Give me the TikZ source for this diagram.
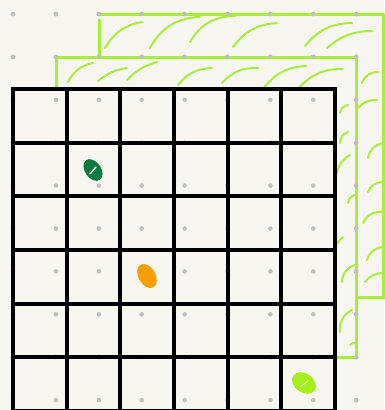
\documentclass[tikz,border=0pt]{standalone}
\usetikzlibrary{positioning}
\definecolor{paper}{HTML}{F8F6F1}
\definecolor{dotgray}{HTML}{C2C0BC}
\definecolor{lime}{HTML}{A8EE3C}
\definecolor{darkleaf}{HTML}{0B7A40}
\definecolor{amber}{HTML}{F5A000}
\definecolor{limeblob}{HTML}{A6EE1E}
\tikzset{
  layer/.style={draw=lime, line width=3pt},
  hatch/.style={draw=lime, line width=2pt, line cap=round},
  gridline/.style={draw=black, line width=4.2pt},
}
\begin{document}
\begin{tikzpicture}[x=1pt,y=-1pt]
\useasboundingbox (0,0) rectangle (384,410);
\fill[paper] (0,0) rectangle (384,410);
% dot paper
\foreach \i in {0,...,8}
  \foreach \j in {0,...,9}
    \fill[dotgray] (13+42.9*\i,14+42.9*\j) circle (2.3pt);
% back layer
\draw[layer] (99,19) -- (99,57);
\draw[layer] (99,14) -- (384,14);
\draw[layer] (383,14) -- (383,297) -- (357,297);
\draw[hatch] (105,48) to[bend left=25] (142,22);
\draw[hatch] (150,48) to[bend left=30] (200,17);
\draw[hatch] (190,42) to[bend left=30] (235,16);
\draw[hatch] (233,47) to[bend left=25] (277,23);
\draw[hatch] (305,46) to[bend left=25] (352,23);
\draw[hatch] (327,48) to[bend left=20] (372,31);
\draw[hatch] (362,83) to[bend left=35] (378,72);
\draw[hatch] (358,108) to[bend left=25] (377,100);
\draw[hatch] (368,158) to[bend left=35] (383,143);
\draw[hatch] (368,192) to[bend left=35] (383,182);
\draw[hatch] (363,223) to[bend left=35] (382,212);
\draw[hatch] (367,260) to[bend left=35] (383,247);
\draw[hatch] (365,282) to[bend left=25] (383,273);
% middle layer
\draw[layer] (56,99) -- (56,57) -- (356,57) -- (356,357) -- (333,357);
\draw[hatch] (68,82) to[bend left=25] (93,63);
\draw[hatch] (98,81) to[bend left=15] (127,68);
\draw[hatch] (127,80) to[bend left=15] (157,62);
\draw[hatch] (178,85) to[bend left=25] (212,68);
\draw[hatch] (222,83) to[bend left=25] (258,68);
\draw[hatch] (263,89) to[bend left=25] (306,66);
\draw[hatch] (298,89) to[bend left=25] (343,69);
\draw[hatch] (340,113) to[bend left=35] (348,105);
\draw[hatch] (340,143) to[bend left=35] (348,132);
\draw[hatch] (337,173) to[bend left=25] (350,155);
\draw[hatch] (348,203) to[bend left=35] (355,195);
\draw[hatch] (332,252) to[bend left=10] (343,237);
\draw[hatch] (342,282) to[bend left=35] (355,265);
\draw[hatch] (340,332) to[bend left=35] (352,310);
\draw[hatch] (350,345) to[bend left=30] (355,343);
% front grid
\fill[paper] (13,89) rectangle (335,412);
\foreach \i in {0,...,8}
  \foreach \j in {0,...,9}
    \fill[dotgray] (13+42.9*\i,14+42.9*\j) circle (2.3pt);
\foreach \k in {0,...,6}
  \draw[gridline] (13+53.67*\k,89) -- (13+53.67*\k,412);
\foreach \k in {0,...,6}
  \draw[gridline] (10.9,89+53.67*\k) -- (337.1,89+53.67*\k);
% blobs
\fill[darkleaf, rotate around={-55:(93,170)}] (93,170) ellipse (12pt and 8pt);
\draw[paper, line width=1.4pt, line cap=round] (90,174) -- (96,167);
\fill[amber, rotate around={-60:(147,276)}] (147,276) ellipse (13pt and 8.5pt);
\fill[limeblob, rotate around={-35:(304,383)}] (304,383) ellipse (13pt and 9.5pt);
\draw[paper!70!limeblob, line width=0.9pt, line cap=round] (300,387) -- (308,381);
\end{tikzpicture}
\end{document}
